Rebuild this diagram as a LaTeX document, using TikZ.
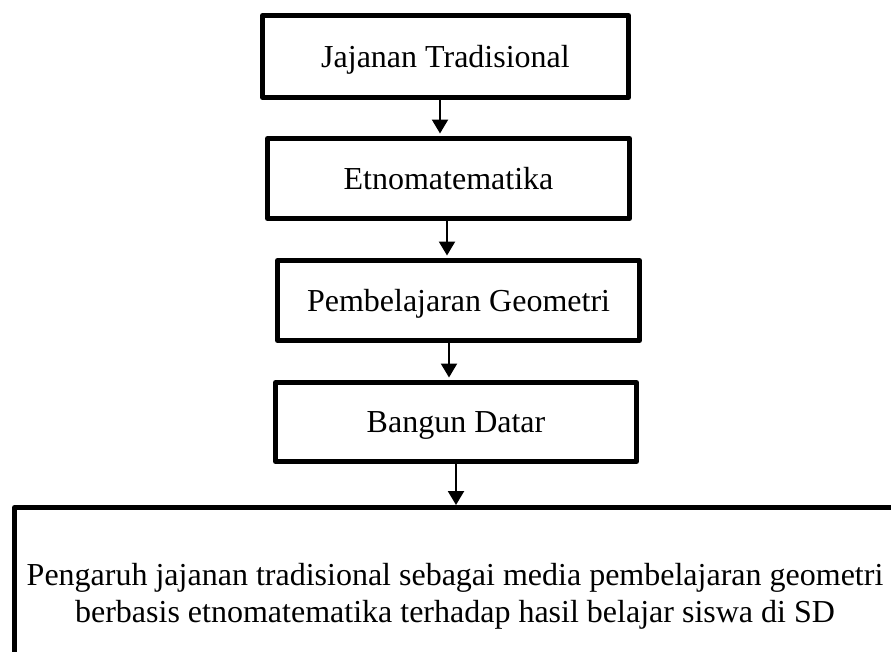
\documentclass[tikz,border=0pt]{standalone}
\usepackage{fontspec}
\setmainfont{Liberation Serif}
\usetikzlibrary{arrows.meta}
\begin{document}
\begin{tikzpicture}[x=1pt,y=-1pt,
  stepbox/.style={draw=black,line width=5pt,line join=round,rectangle,inner sep=0pt,
    text depth=0pt,font=\fontsize{32}{37}\selectfont},
  arr/.style={line width=2.2pt,-{Triangle[width=16pt,length=14pt]}},
  lastline/.style={line width=5pt,line join=round}]
\useasboundingbox (0,0) rectangle (891,651);
\node[stepbox,minimum width=366pt,minimum height=82pt] (b1) at (445.5,56.5) {Jajanan Tradisional};
\node[stepbox,minimum width=362pt,minimum height=80pt] (b2) at (448.5,178.5) {Etnomatematika};
\node[stepbox,minimum width=362pt,minimum height=80pt] (b3) at (458.5,300.5) {Pembelajaran Geometri};
\node[stepbox,minimum width=361pt,minimum height=79pt] (b4) at (456,422) {Bangun Datar};
\coordinate (c5bl) at (14.5,680);
\coordinate (c5tl) at (14.5,507.5);
\coordinate (c5tr) at (920,507.5);
\draw[lastline] (c5bl) -- (c5tl) -- (c5tr);
\node[align=center,inner sep=0pt,font=\fontsize{32}{37}\selectfont] (t5) at (455,596)
  {Pengaruh jajanan tradisional sebagai media pembelajaran geometri\\berbasis etnomatematika terhadap hasil belajar siswa di SD};
\coordinate (x1) at (440,0);
\coordinate (x2) at (447,0);
\coordinate (x3) at (449,0);
\coordinate (x4) at (456,0);
\draw[arr] (b1.south -| x1) -- ([yshift=2.5pt]b2.north -| x1);
\draw[arr] (b2.south -| x2) -- ([yshift=2.5pt]b3.north -| x2);
\draw[arr] (b3.south -| x3) -- ([yshift=2.5pt]b4.north -| x3);
\draw[arr] (b4.south -| x4) -- ([yshift=2.5pt]c5tl -| x4);
\end{tikzpicture}
\end{document}
